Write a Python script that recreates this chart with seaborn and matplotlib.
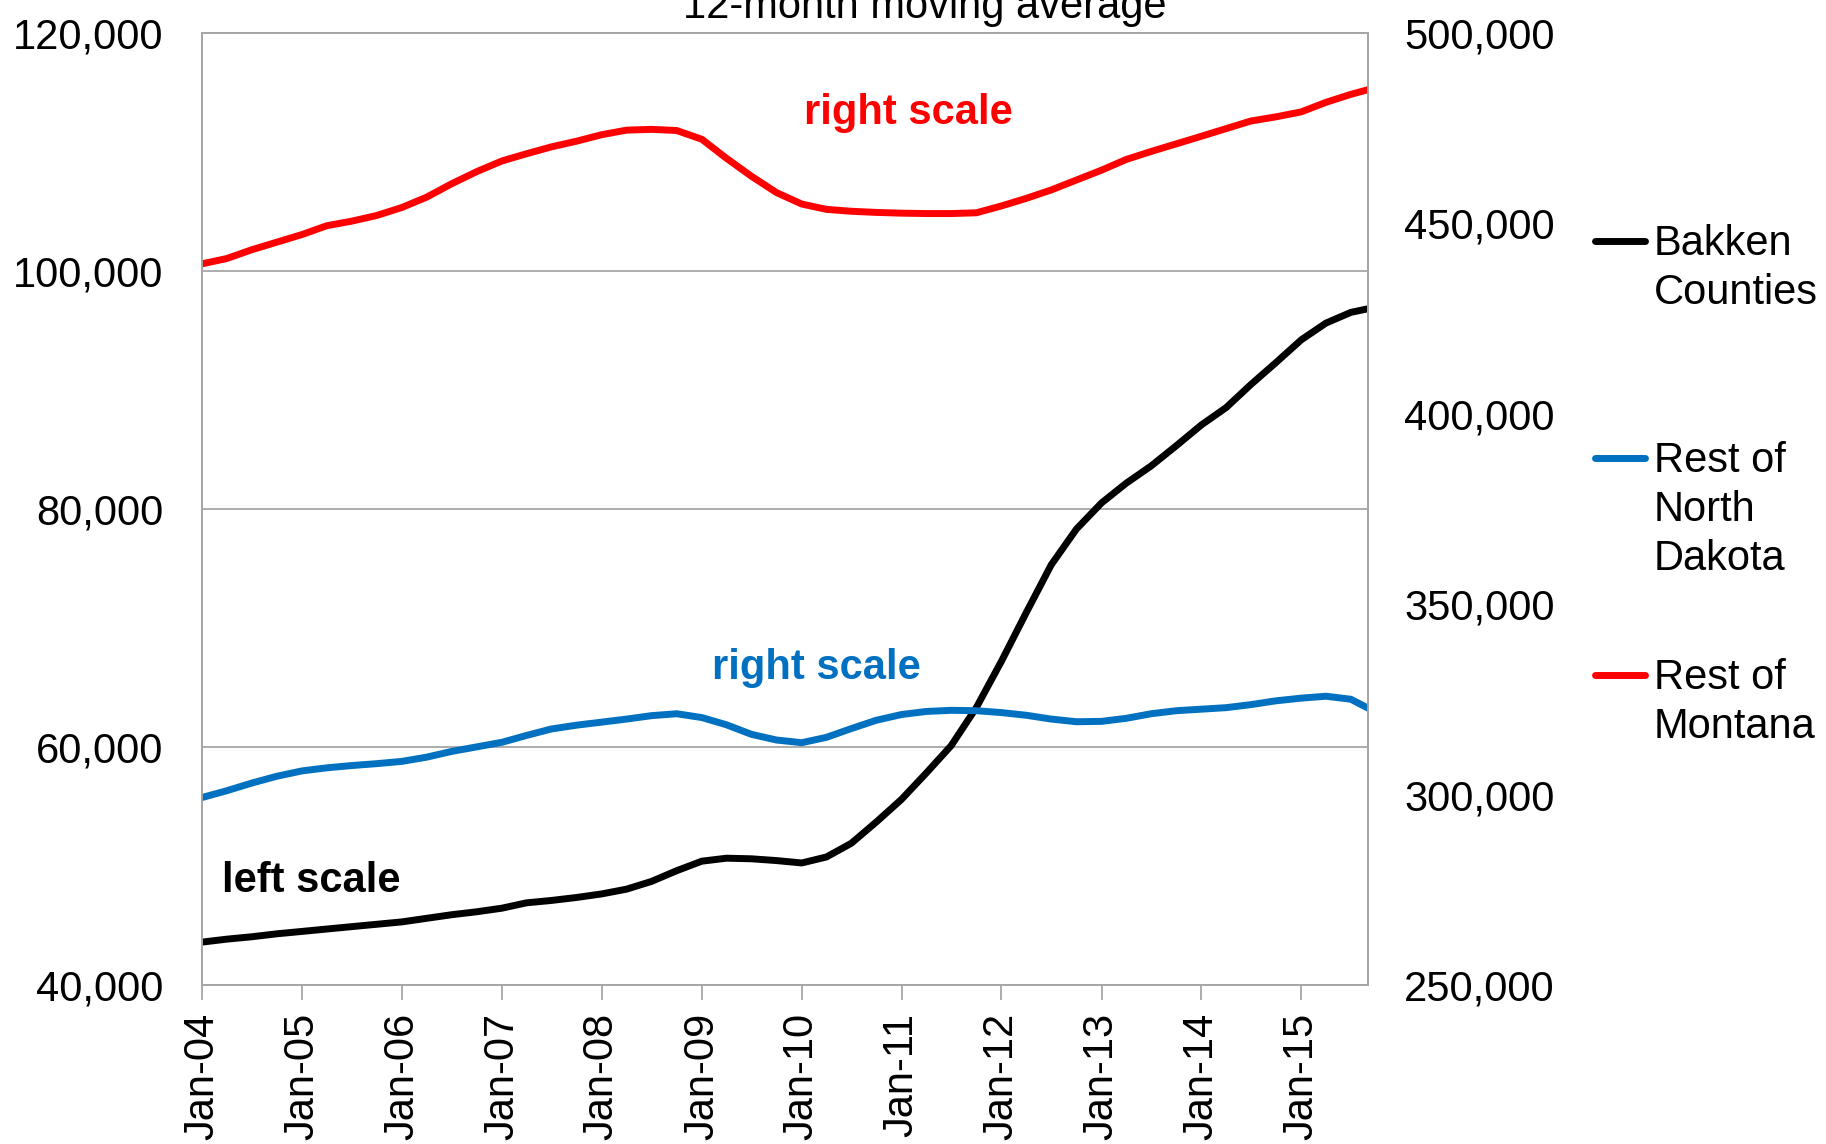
import pandas as pd
import matplotlib
matplotlib.use('Agg')
import matplotlib.pyplot as plt
import matplotlib.dates as mdates
from matplotlib.ticker import FuncFormatter
from matplotlib.lines import Line2D
import seaborn as sns

# quarterly readings, Jan-2004 .. Jul-2015, plus the last month (Sep-2015)
dates = list(pd.date_range('2004-01-01', '2015-07-01', freq='QS')) + [pd.Timestamp('2015-09-01')]

bakken = [43600, 43850, 44050, 44300,
          44500, 44700, 44900, 45100,
          45300, 45600, 45900, 46150,
          46450, 46900, 47100, 47350,
          47650, 48050, 48700, 49600,
          50400, 50650, 50600, 50450,
          50250, 50750, 51900, 53700,
          55600, 57800, 60100, 63300,
          67200, 71300, 75300, 78300,
          80500, 82150, 83600, 85300,
          87050, 88500, 90450, 92300,
          94200, 95600, 96500, 96800]

rest_nd = [299200, 301000, 303000, 304800,
           306200, 307000, 307600, 308100,
           308700, 309800, 311300, 312500,
           313700, 315500, 317200, 318200,
           319000, 319800, 320700, 321200,
           320200, 318300, 315800, 314300,
           313600, 315000, 317300, 319500,
           321000, 321800, 322100, 322000,
           321500, 320800, 319800, 319100,
           319200, 320000, 321200, 322000,
           322400, 322800, 323600, 324600,
           325300, 325800, 325000, 322700]

rest_mt = [439300, 440700, 443000, 445000,
           447000, 449300, 450500, 452000,
           454100, 456800, 460300, 463500,
           466300, 468200, 470000, 471500,
           473200, 474400, 474600, 474300,
           472000, 467000, 462300, 458000,
           455000, 453600, 453100, 452800,
           452600, 452500, 452500, 452700,
           454500, 456500, 458700, 461300,
           463900, 466700, 468800, 470800,
           472800, 474800, 476800, 477900,
           479200, 481700, 483800, 485000]

series = ['Bakken Counties', 'Rest of North Dakota', 'Rest of Montana']
legend_labels = ['Bakken\nCounties', 'Rest of\nNorth\nDakota', 'Rest of\nMontana']
colors = ['#000000', '#0070C0', '#FF0000']

df = pd.DataFrame({'date': dates, series[0]: bakken, series[1]: rest_nd, series[2]: rest_mt})

sns.set_style('white')
plt.rcParams['font.family'] = ['Liberation Sans', 'DejaVu Sans']
plt.rcParams['text.color'] = 'black'
fs = 30
grey = '#A6A6A6'
lw = 5

fig = plt.figure(figsize=(18.26, 11.44), dpi=100)
ax = fig.add_axes([0.1106, 0.139, 0.6385, 0.8325])
ax2 = ax.twinx()

sns.lineplot(data=df, x='date', y=series[0], ax=ax, color=colors[0], lw=lw)
sns.lineplot(data=df, x='date', y=series[1], ax=ax2, color=colors[1], lw=lw)
sns.lineplot(data=df, x='date', y=series[2], ax=ax2, color=colors[2], lw=lw)

ax.set_xlim(df['date'].iloc[0], df['date'].iloc[-1])
ax.set_ylim(40000, 120000)
ax2.set_ylim(250000, 500000)
ax.set_yticks(range(40000, 120001, 20000))
ax2.set_yticks(range(250000, 500001, 50000))
fmt = FuncFormatter(lambda v, p: f'{v:,.0f}')
ax.yaxis.set_major_formatter(fmt)
ax2.yaxis.set_major_formatter(fmt)

ax.xaxis.set_major_locator(mdates.YearLocator(month=1, day=1))
ax.xaxis.set_major_formatter(mdates.DateFormatter('%b-%y'))
for lab in ax.get_xticklabels():
    lab.set_rotation(90)

ax.set_xlabel('')
ax.set_ylabel('')
ax2.set_ylabel('')
ax.tick_params(axis='y', length=0, pad=28, labelsize=fs, labelcolor='black')
ax2.tick_params(axis='y', length=0, pad=26, labelsize=fs, labelcolor='black')
ax.tick_params(axis='x', length=11, width=1.3, color=grey, pad=9, labelsize=fs,
               labelcolor='black', bottom=True)

ax.yaxis.grid(True, color=grey, lw=1.3)
ax.set_axisbelow(True)
for a in (ax, ax2):
    for s in a.spines.values():
        s.set_color(grey)
        s.set_linewidth(1.3)

# annotations
ax.text(0.606, 0.9156, 'right scale', transform=ax.transAxes, color=colors[2],
        fontsize=fs, fontweight='bold', ha='center', va='center')
ax.text(0.527, 0.333, 'right scale', transform=ax.transAxes, color=colors[1],
        fontsize=fs, fontweight='bold', ha='center', va='center')
ax.text(0.0935, 0.109, 'left scale', transform=ax.transAxes, color=colors[0],
        fontsize=fs, fontweight='bold', ha='center', va='center')

# title sits partly above the top edge, as in the original
fig.text(0.5066, 0.984, '12-month moving average', fontsize=fs, ha='center', va='baseline')

# legend to the right, handle aligned with the first line of each label
leg_y = [241, 458, 675]
for lab, col, yp in zip(legend_labels, colors, leg_y):
    yf = 1 - yp / 1144
    fig.add_artist(Line2D([1595 / 1826, 1645 / 1826], [yf, yf], color=col, lw=lw,
                          transform=fig.transFigure, solid_capstyle='round'))
    fig.text(1654 / 1826, 1 - (yp - 17) / 1144, lab, fontsize=fs, ha='left', va='top',
             linespacing=1.29)

plt.savefig('out.png', dpi=100)
